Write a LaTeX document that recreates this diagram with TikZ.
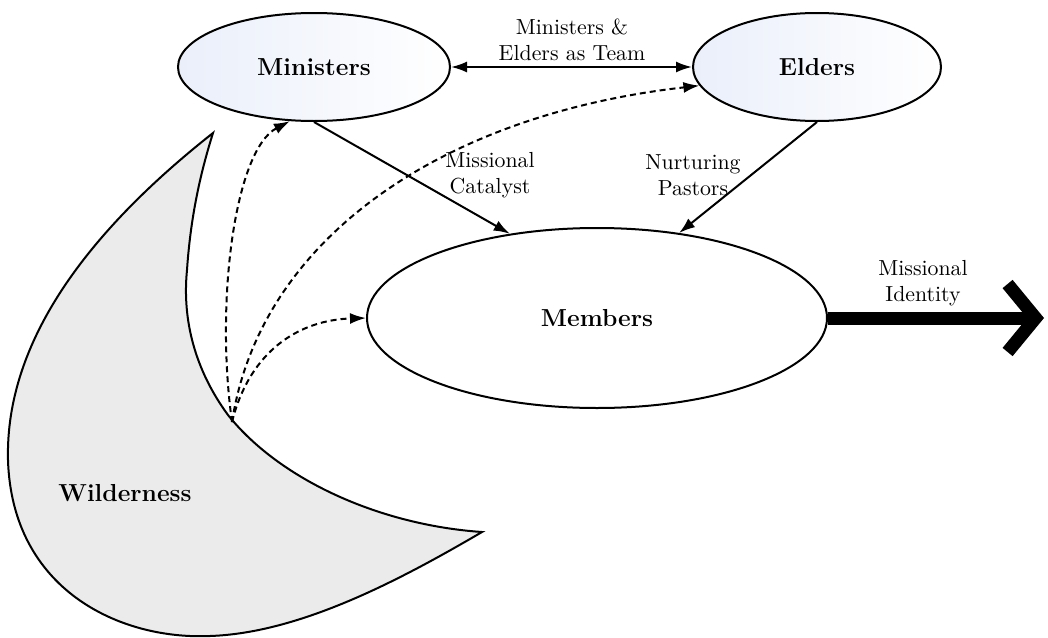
\documentclass[tikz,border=0pt]{standalone}
\usepackage{tikz}
\usetikzlibrary{arrows.meta,shapes.geometric,positioning,calc}
\usepackage{xcolor}
\definecolor{mist}{RGB}{234,239,250}

\tikzset{
	bubble/.style={draw,ellipse,line width=1pt,font=\fontsize{12.3}{15}\selectfont\bfseries},
	lbl/.style={align=center,font=\fontsize{10.9}{13}\selectfont},
	link/.style={line width=1pt,-{Latex[length=8pt,width=5.5pt]}},
	lure/.style={link,densely dashed}
}

\begin{document}
\begin{tikzpicture}[x=0.5pt,y=-0.5pt]
				
				\useasboundingbox (0,0) rectangle (1048,637);
				
				% Wilderness
				\draw[line width=1pt,fill=black!8] (213,133) .. controls (90,230) and (5,340) .. (8,460)
					.. controls (12,590) and (120,640) .. (210,636)
					.. controls (300,633) and (400,580) .. (482,532)
					.. controls (380,525) and (280,480) .. (228,415)
					.. controls (195,370) and (182,320) .. (187,270)
					.. controls (191,210) and (203,165) .. (213,133) -- cycle;
				\node[font=\fontsize{12.3}{15}\selectfont\bfseries] (wild) at (125,493) {Wilderness};
				\coordinate (w) at (232,422);
				
				% Ellissi
				\node[bubble,left color=mist,right color=white,minimum width=136pt,minimum height=54pt] (min) at (314,67) {Ministers};
				\node[bubble,left color=mist,right color=white,minimum width=124pt,minimum height=54pt] (eld) at (817,67) {Elders};
				\node[bubble,fill=white,minimum width=230pt,minimum height=90pt] (mem) at (597,318) {Members};
				
				% Frecce
				\draw[link,{Latex[length=8pt,width=5.5pt]}-{Latex[length=8pt,width=5.5pt]}] (min.east) -- (eld.west);
				\node[lbl] (team) at (572,40) {Ministers \&\\Elders as Team};
				
				\draw[link] (min.south) -- (mem.136);
				\node[lbl] (cat) at (490,175) {Missional\\Catalyst};
				
				\draw[link] (eld.south) -- (mem.46);
				\node[lbl] (past) at (693,175) {Nurturing\\Pastors};
				
				% Identita
				\coordinate (out) at (1044,318);
				\draw[line width=6.5pt,-{Straight Barb[length=14pt,width=34pt]}] (mem.east) -- (out);
				\node[lbl] (ident) at (923,283) {Missional\\Identity};
				
				% Richiamo
				\draw[lure] (w) .. controls (250,350) and (300,320) .. (mem.west);
				\draw[lure] (w) .. controls (215,300) and (235,150) .. (min.-114);
				\draw[lure] (w) .. controls (260,240) and (440,115) .. (eld.-171);
				
			\end{tikzpicture}
\end{document}
